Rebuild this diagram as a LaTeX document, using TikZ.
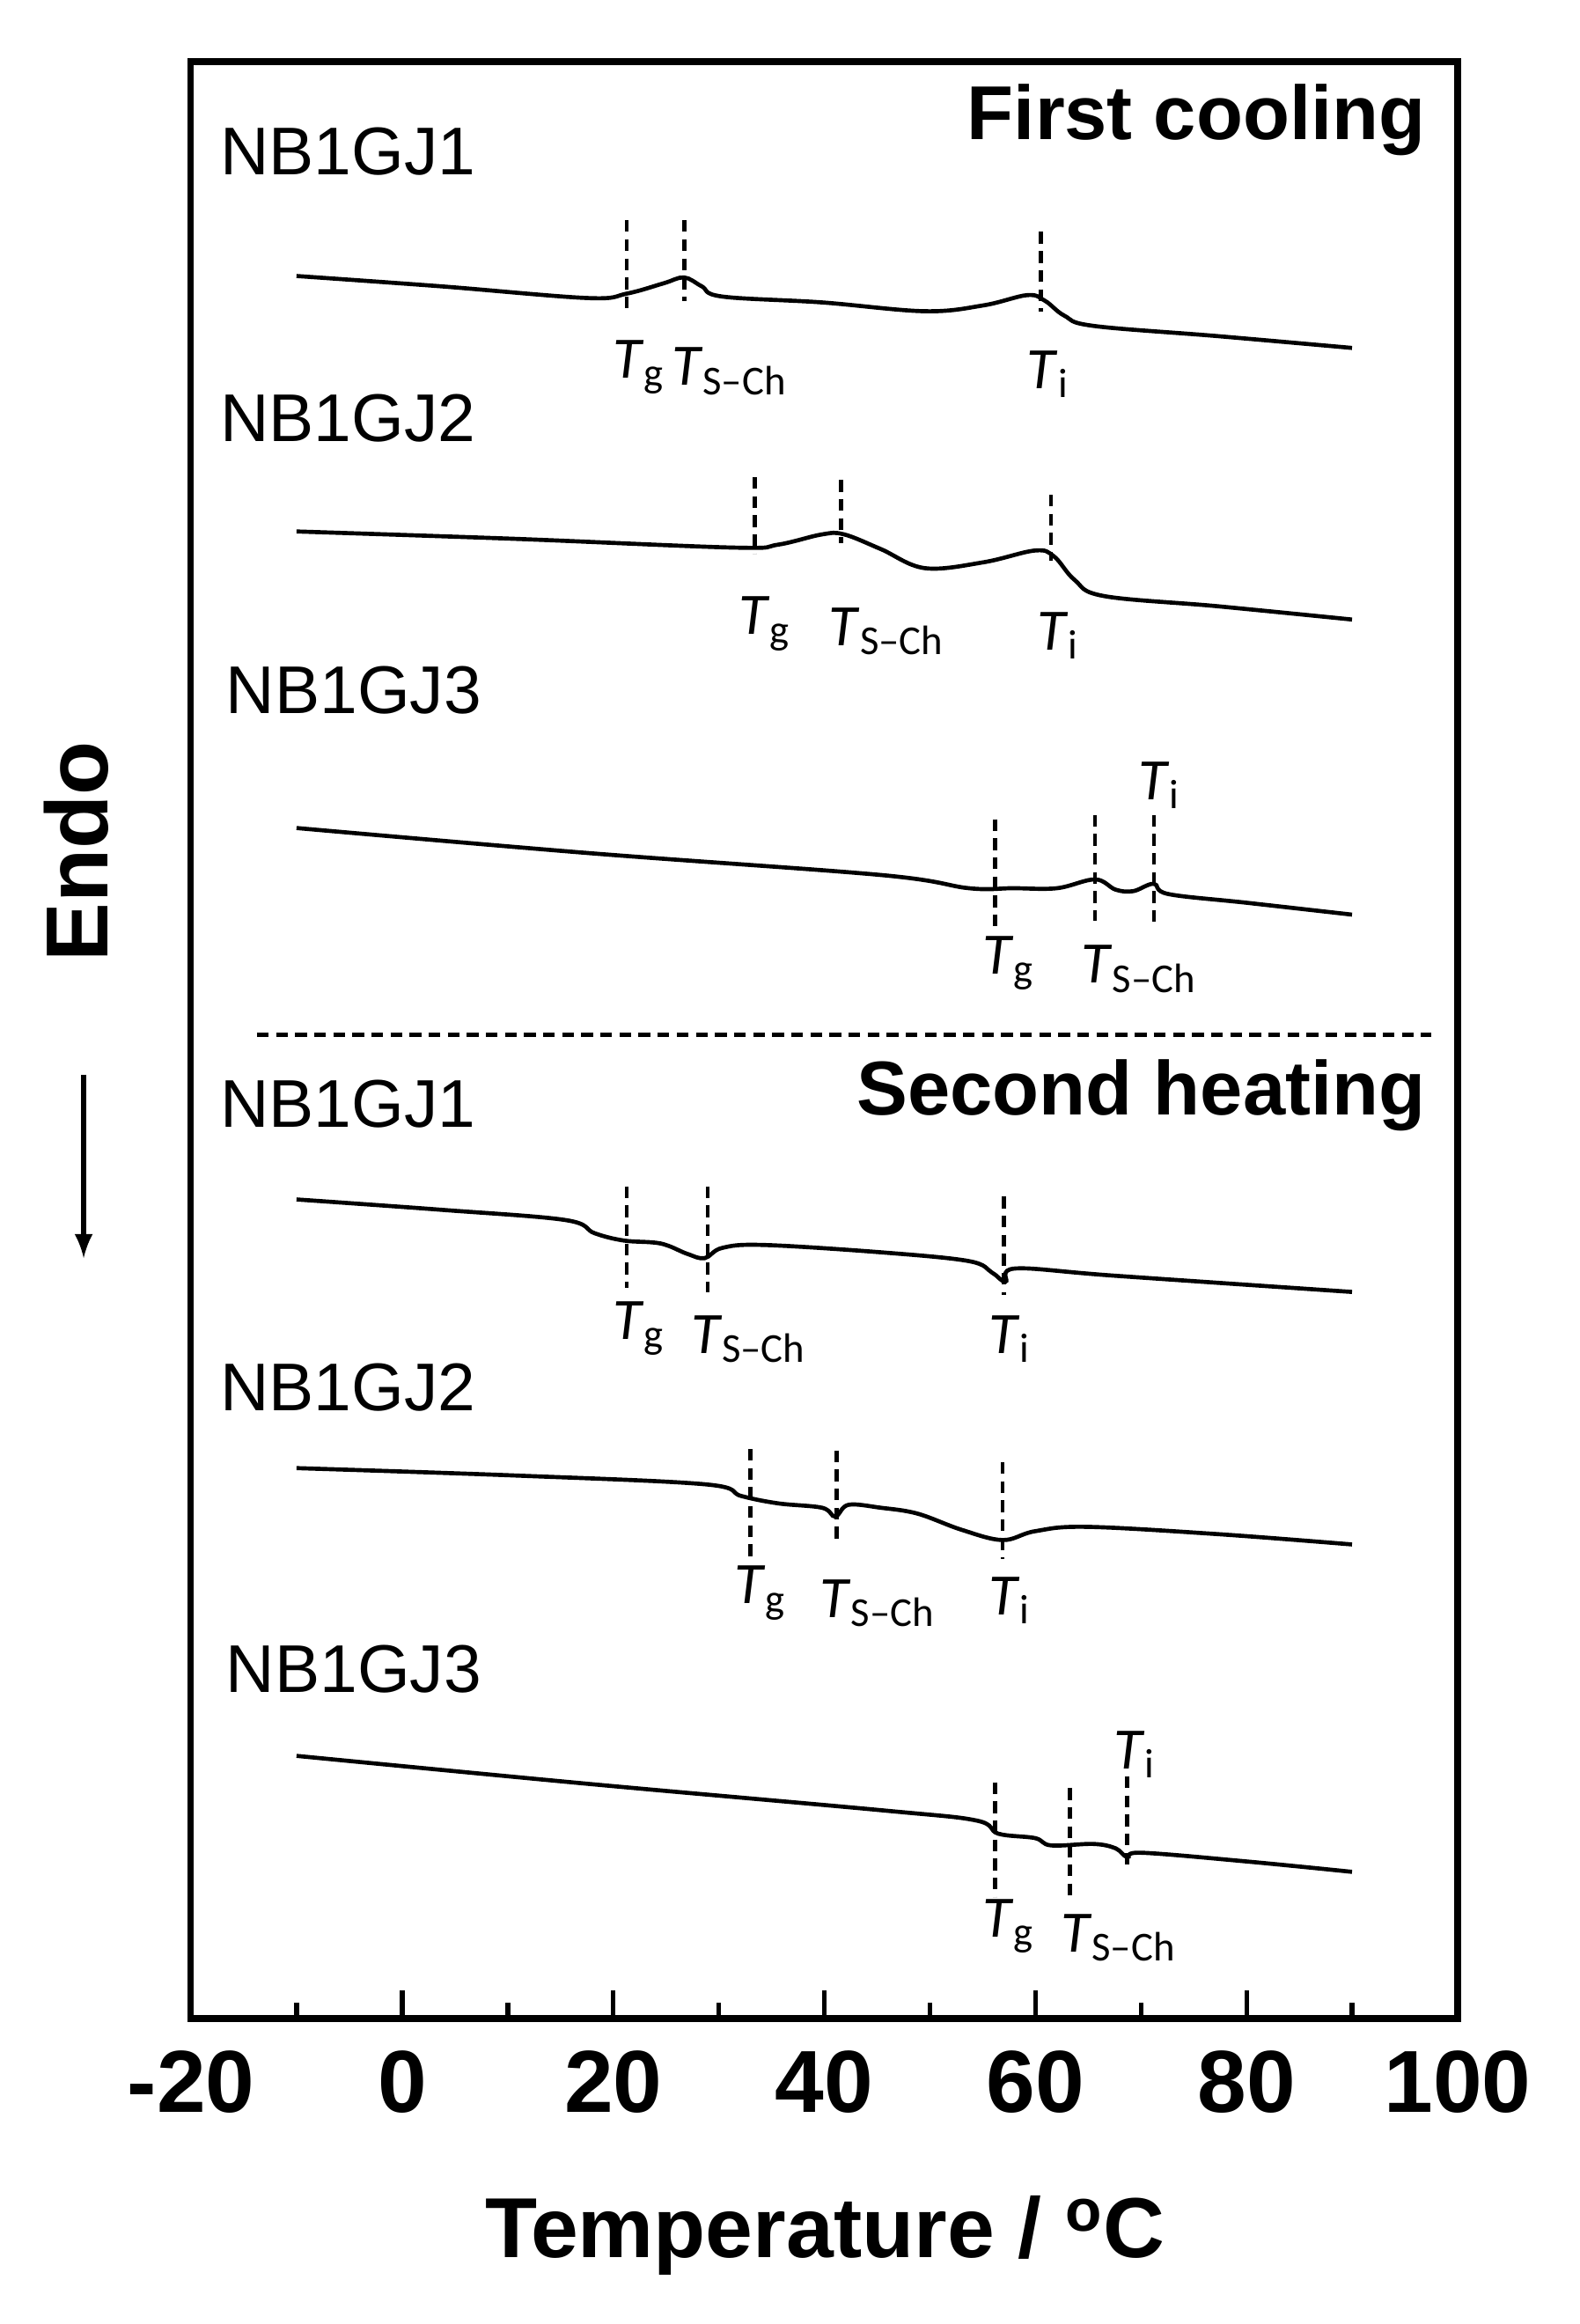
\documentclass[tikz,border=0pt]{standalone}
\usepackage{fontspec}
\setmainfont{Liberation Sans}
\newfontfamily\carl{Carlito}
\begin{document}
\begin{tikzpicture}[x=0.5pt,y=-0.5pt,
  curve/.style={line width=1.4pt,smooth,tension=0.6},
  mk/.style={line width=1.4pt,dash pattern=on 4pt off 2.5pt},
  samp/.style={font=\fontsize{23}{26}\selectfont,anchor=west},
  tl/.style={font=\carl\fontsize{20}{23}\selectfont},
  ttl/.style={font=\bfseries\fontsize{26}{30}\selectfont,anchor=east},
  tick/.style={font=\bfseries\fontsize{30}{34}\selectfont}]
\useasboundingbox (0,0) rectangle (1076,1583);
\fill[white] (0,0) rectangle (1076,1583);
\draw[line width=2.2pt] (130,42) rectangle (993,1375);
% ticks
\foreach \t [count=\i] in {-10,0,...,90}{
  \pgfmathsetmacro{\xx}{274+7.19*\t}
  \pgfmathtruncatemacro{\m}{mod(\i,2)}
  \ifnum\m=0 \draw[line width=1.6pt] (\xx,1375) -- (\xx,1356); \else \draw[line width=1.6pt] (\xx,1375) -- (\xx,1364); \fi}
\foreach \t in {-20,0,...,100}{
  \node[tick] (tk\t) at ({274+7.19*\t},1418) {\t};}
\node[font=\bfseries\fontsize{29}{33}\selectfont] (xt) at (562,1523) {Temperature / \textsuperscript{o}C};
\node[font=\bfseries\fontsize{30}{34}\selectfont,rotate=90] (endo) at (52,580) {Endo};
\coordinate (a1) at (57,732); \coordinate (a2) at (57,857);
\draw[line width=1.8pt,-latex] (a1) -- (a2);
\node[ttl] (t1) at (978,82) {First cooling};
\node[ttl] (t2) at (978,746) {Second heating};
\coordinate (s1) at (175,705); \coordinate (s2) at (975,705);
\draw[mk] (s1) -- (s2);
% sample labels
\node[samp] (n1) at (143,103) {NB1GJ1};
\node[samp] (n2) at (143,285) {NB1GJ2};
\node[samp] (n3) at (147,470) {NB1GJ3};
\node[samp] (n4) at (143,752) {NB1GJ1};
\node[samp] (n5) at (143,945) {NB1GJ2};
\node[samp] (n6) at (147,1137) {NB1GJ3};
% curves
\draw[curve] plot coordinates {(202,188) (300,195) (400,203) (427,200) (452,193) (466,189) (478,195) (492,202) (560,206) (630,212) (670,208) (700,201) (712,205) (725,215) (745,222) (830,229) (921,237)};
\draw[curve] plot coordinates {(202,362) (350,367) (500,373) (530,371) (560,364) (575,364) (600,374) (630,387) (670,383) (705,375) (718,379) (732,395) (752,406) (830,413) (921,422)};
\draw[curve] plot coordinates {(202,564) (400,581) (600,596) (660,605) (690,605) (720,605) (746,599) (760,606) (772,607) (786,602) (796,609) (850,615) (921,623)};
\draw[curve] plot coordinates {(202,817) (300,824) (385,831) (405,840) (425,845) (450,847) (468,854) (480,857) (492,850) (520,848) (600,853) (660,859) (676,867) (685,873) (692,864) (760,869) (921,880)};
\draw[curve] plot coordinates {(202,1000) (350,1005) (480,1011) (505,1019) (530,1024) (560,1027) (569,1033) (578,1025) (600,1027) (625,1031) (655,1042) (683,1049) (705,1043) (740,1040) (830,1045) (921,1052)};
\draw[curve] plot coordinates {(202,1196) (400,1215) (600,1233) (665,1240) (680,1249) (705,1252) (716,1257) (745,1256) (760,1259) (768,1265) (778,1262) (850,1268) (921,1275)};
% markers
\foreach \x/\ya/\yb [count=\k] in {427/150/212, 466/150/205, 709/158/212,
  514/325/377, 573/327/370, 716/337/382,
  678/558/632, 746/555/627, 786/555/632,
  427/808/877, 482/808/880, 684/815/882,
  511/987/1062, 570/988/1052, 683/996/1062,
  678/1214/1292, 729/1218/1292, 768/1210/1272}{
  \coordinate (m\k a) at (\x,\ya); \coordinate (m\k b) at (\x,\yb);
  \draw[mk] (m\k a) -- (m\k b);}
% labels
\newcommand\Tg{\textit{T}\textsubscript{g}}
\newcommand\Ts{\textit{T}\textsubscript{S–Ch}}
\newcommand\Ti{\textit{T}\textsubscript{i}}
\foreach \x/\y/\w [count=\k] in {435/250/\Tg, 497/253/\Ts, 714/255/\Ti,
  521/425/\Tg, 604/430/\Ts, 721/433/\Ti,
  687/656/\Tg, 776/660/\Ts, 790/535/\Ti,
  435/905/\Tg, 510/912/\Ts, 688/912/\Ti,
  518/1085/\Tg, 598/1092/\Ts, 688/1090/\Ti,
  687/1312/\Tg, 762/1320/\Ts, 773/1195/\Ti}{
  \node[tl] (L\k) at (\x,\y) {\w};}
\end{tikzpicture}
\end{document}
